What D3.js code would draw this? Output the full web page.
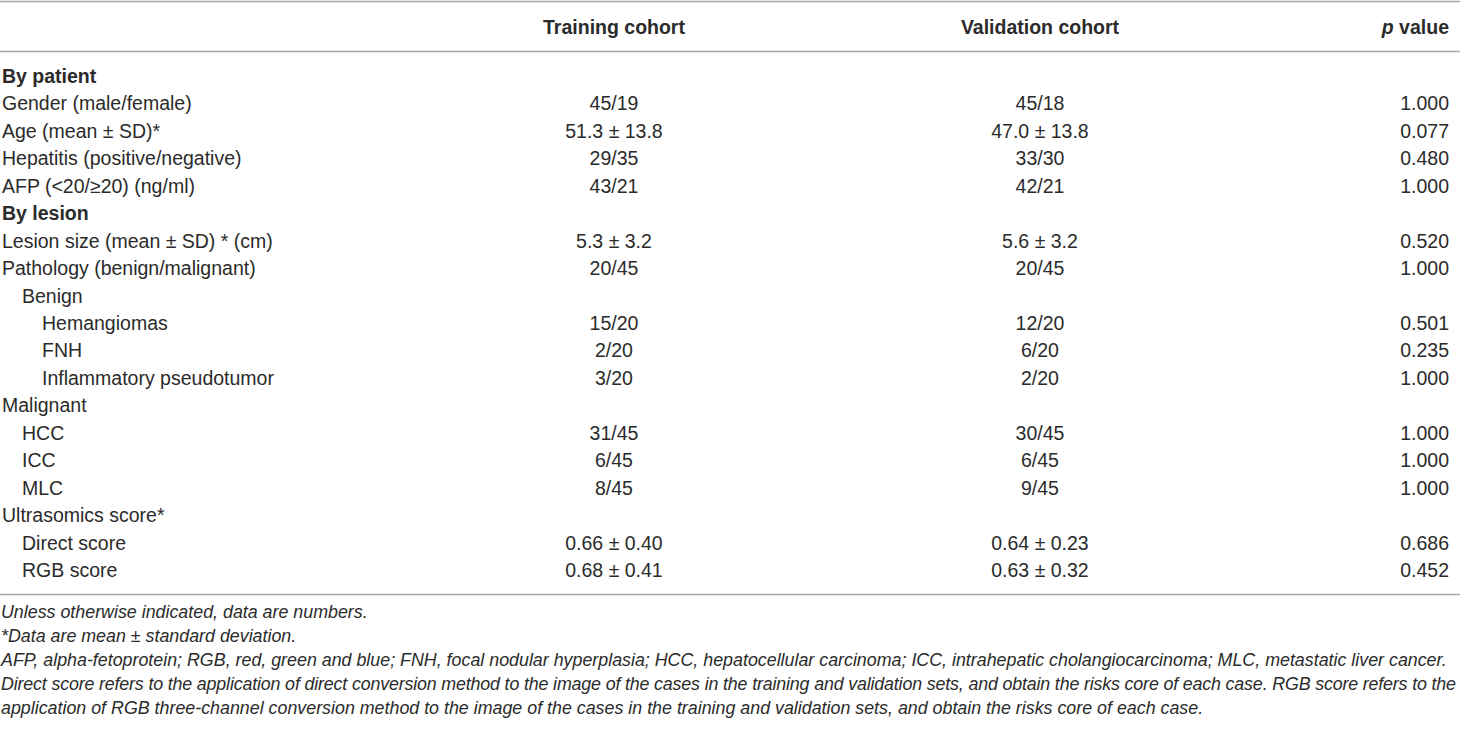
<!DOCTYPE html>
<html>
<head>
<meta charset="utf-8">
<script src="https://cdn.jsdelivr.net/npm/d3@7/dist/d3.min.js"></script>
<style>
  body { margin: 0; background: #fff; }
  svg text { font-family: "Liberation Sans", Arial, Helvetica, sans-serif; fill: #2b2b2b; }
</style>
</head>
<body>
<svg id="table"></svg>
<script>
// table content
const rowLabels = [
  'By patient', 'Gender (male/female)', 'Age (mean ± SD)*', 'Hepatitis (positive/negative)',
  'AFP (<20/≥20) (ng/ml)', 'By lesion', 'Lesion size (mean ± SD) * (cm)',
  'Pathology (benign/malignant)', 'Benign', 'Hemangiomas', 'FNH', 'Inflammatory pseudotumor',
  'Malignant', 'HCC', 'ICC', 'MLC', 'Ultrasomics score*', 'Direct score', 'RGB score'
];
const rowLevels = [0, 0, 0, 0, 0, 0, 0, 0, 1, 2, 2, 2, 0, 1, 1, 1, 0, 1, 1];
const boldRows = ['By patient', 'By lesion'];
const training = ['', '45/19', '51.3 ± 13.8', '29/35', '43/21', '', '5.3 ± 3.2', '20/45', '',
  '15/20', '2/20', '3/20', '', '31/45', '6/45', '8/45', '', '0.66 ± 0.40', '0.68 ± 0.41'];
const validation = ['', '45/18', '47.0 ± 13.8', '33/30', '42/21', '', '5.6 ± 3.2', '20/45', '',
  '12/20', '6/20', '2/20', '', '30/45', '6/45', '9/45', '', '0.64 ± 0.23', '0.63 ± 0.32'];
const pValues = ['', '1.000', '0.077', '0.480', '1.000', '', '0.520', '1.000', '',
  '0.501', '0.235', '1.000', '', '1.000', '1.000', '1.000', '', '0.686', '0.452'];
const footnotes = [
  'Unless otherwise indicated, data are numbers.',
  '*Data are mean ± standard deviation.',
  'AFP, alpha-fetoprotein; RGB, red, green and blue; FNH, focal nodular hyperplasia; HCC, hepatocellular carcinoma; ICC, intrahepatic cholangiocarcinoma; MLC, metastatic liver cancer.',
  'Direct score refers to the application of direct conversion method to the image of the cases in the training and validation sets, and obtain the risks core of each case. RGB score refers to the',
  'application of RGB three-channel conversion method to the image of the cases in the training and validation sets, and obtain the risks core of each case.'
];

const width = 1460, height = 729;
const fontSize = 19.5;

const svg = d3.select('#table')
  .attr('width', width)
  .attr('height', height);

// row baselines
const y = d3.scaleLinear()
  .domain([0, rowLabels.length - 1])
  .range([83, 577]);

const indent = d3.scaleLinear().domain([0, 2]).range([2, 42]);

const colX = {training: 614, validation: 1040, p: 1449};

// rules
const rules = [1.5, 51.5, 594.5];
svg.selectAll('.rule')
  .data(rules)
  .enter().append('line')
  .attr('class', 'rule')
  .attr('x1', 0)
  .attr('x2', width)
  .attr('y1', d => d)
  .attr('y2', d => d)
  .attr('stroke', '#a8a8a8')
  .attr('stroke-width', 1.6);

// header
let header = svg.append('g')
  .attr('font-size', fontSize)
  .attr('font-weight', 'bold');

header.append('text')
  .attr('x', colX.training)
  .attr('y', 34)
  .attr('text-anchor', 'middle')
  .text('Training cohort');

header.append('text')
  .attr('x', colX.validation)
  .attr('y', 34)
  .attr('text-anchor', 'middle')
  .text('Validation cohort');

let pHead = header.append('text')
  .attr('x', colX.p)
  .attr('y', 34)
  .attr('text-anchor', 'end');
pHead.append('tspan').attr('font-style', 'italic').text('p');
pHead.append('tspan').text(' value');

// body rows
let rows = svg.append('g')
  .attr('font-size', fontSize)
  .selectAll('.row')
  .data(rowLabels)
  .enter().append('g')
  .attr('class', 'row')
  .attr('transform', (d, i) => 'translate(0,' + y(i) + ')');

rows.append('text')
  .attr('x', (d, i) => indent(rowLevels[i]))
  .attr('font-weight', d => boldRows.includes(d) ? 'bold' : 'normal')
  .text(d => d);

rows.append('text')
  .attr('x', colX.training)
  .attr('text-anchor', 'middle')
  .text((d, i) => training[i]);

rows.append('text')
  .attr('x', colX.validation)
  .attr('text-anchor', 'middle')
  .text((d, i) => validation[i]);

rows.append('text')
  .attr('x', colX.p)
  .attr('text-anchor', 'end')
  .text((d, i) => pValues[i]);

// footnotes
let notes = svg.append('g')
  .attr('font-style', 'italic');

let noteText = notes.selectAll('text')
  .data(footnotes)
  .enter().append('text')
  .attr('x', 1)
  .attr('y', (d, i) => 618 + i * 24)
  .attr('font-size', 17)
  .text(d => d);

// fit the long abbreviation line to its printed width, then justify line 4
let probe = noteText.filter((d, i) => i === 2).node();
let noteSize = 17 * 1446 / probe.getComputedTextLength();
noteText.attr('font-size', noteSize);
noteText.filter((d, i) => i === 3)
  .attr('textLength', 1455)
  .attr('lengthAdjust', 'spacing');
</script>
</body>
</html>
